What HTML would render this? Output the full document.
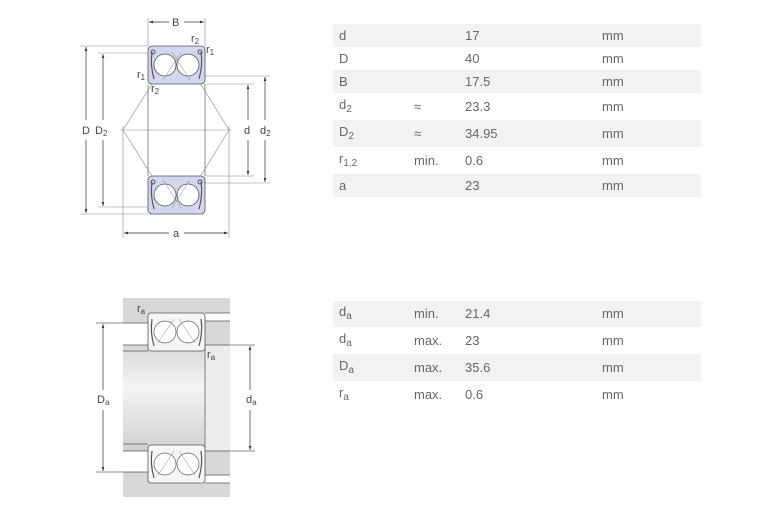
<!DOCTYPE html>
<html><head><meta charset="utf-8"><style>
body{margin:0;background:#fff;width:780px;height:520px;overflow:hidden;font-family:"Liberation Sans",Arial,sans-serif;}
.t{position:absolute;left:333px;width:368px;color:#666;font-size:13px;}
.r{position:relative;}
.r span{position:absolute;top:50%;transform:translateY(-55%);}
.r .a{left:6px}.r .b{left:81px}.r .c{left:132px}.r .u{left:269px}
.g{background:#f2f2f2}
sub{font-size:10px;vertical-align:-3px}
</style></head><body>
<svg width="780" height="520" style="position:absolute;left:0;top:0" font-family="Liberation Sans,Arial,sans-serif" font-size="11" fill="#444">
<defs>
<marker id="ar" markerWidth="6" markerHeight="6" refX="6" refY="3" orient="auto"><path d="M0,1 L6,3 L0,5z" fill="#333"/></marker>
<linearGradient id="sh" x1="0" y1="0" x2="0" y2="1"><stop offset="0" stop-color="#d8d8d8"/><stop offset="0.4" stop-color="#f4f4f4"/><stop offset="1" stop-color="#d0d0d0"/></linearGradient>
<g id="brg">
<rect x="0" y="0" width="57" height="38" rx="4" fill="#d0d7ee" stroke="#555" stroke-width="0.8"/>
<circle cx="17" cy="19" r="11" fill="#fff" stroke="#555" stroke-width="0.8"/>
<circle cx="40" cy="19" r="11" fill="#fff" stroke="#555" stroke-width="0.8"/>
<path d="M4,6 Q2,19 6,33 M53,6 Q55,19 51,33" stroke="#555" fill="none" stroke-width="1.2"/>
<circle cx="5" cy="6" r="2" fill="none" stroke="#555"/><circle cx="52" cy="6" r="2" fill="none" stroke="#555"/>
</g>
<g id="brg2">
<rect x="0" y="0" width="57" height="38" rx="3" fill="#f6f6f6" stroke="#555" stroke-width="0.8"/>
<circle cx="17" cy="19" r="11" fill="#fff" stroke="#666" stroke-width="0.7"/>
<circle cx="40" cy="19" r="11" fill="#fff" stroke="#666" stroke-width="0.7"/>
<path d="M4,6 Q2,19 6,33 M53,6 Q55,19 51,33" stroke="#555" fill="none" stroke-width="1.2"/>
<path d="M10,30 L26,6 M47,30 L31,6" stroke="#888" stroke-width="0.5"/>
</g>
</defs>
<g stroke="#888" stroke-width="0.6" fill="none">
<line x1="148" y1="84" x2="148" y2="176" stroke="#444"/><line x1="205" y1="84" x2="205" y2="176" stroke="#444"/>
<line x1="148" y1="18" x2="148" y2="46"/><line x1="205" y1="18" x2="205" y2="46"/>
<line x1="80" y1="46" x2="148" y2="46"/><line x1="80" y1="214" x2="148" y2="214"/>
<line x1="98" y1="53" x2="150" y2="53"/><line x1="98" y1="207" x2="150" y2="207"/>
<line x1="205" y1="84" x2="254" y2="84"/><line x1="205" y1="176" x2="254" y2="176"/>
<line x1="205" y1="76" x2="270" y2="76"/><line x1="205" y1="183" x2="270" y2="183"/>
<line x1="120" y1="130" x2="232" y2="130"/>
<line x1="123" y1="126" x2="123" y2="238"/><line x1="229" y1="126" x2="229" y2="238"/>
<path d="M123,130 L172,52 M229,130 L181,52 M123,130 L172,208 M229,130 L181,208"/>
</g>
<use href="#brg" x="148" y="46"/><use href="#brg" x="148" y="176"/>
<g stroke="#888" stroke-width="0.5"><path d="M172,52 L190,80 M181,52 L163,80 M172,208 L190,180 M181,208 L163,180"/></g>
<g stroke="#333" stroke-width="0.7">
<line x1="169" y1="22" x2="149" y2="22" marker-end="url(#ar)"/><line x1="184" y1="22" x2="204" y2="22" marker-end="url(#ar)"/>
<line x1="86" y1="120" x2="86" y2="47" marker-end="url(#ar)"/><line x1="86" y1="140" x2="86" y2="213" marker-end="url(#ar)"/>
<line x1="103" y1="120" x2="103" y2="54" marker-end="url(#ar)"/><line x1="103" y1="140" x2="103" y2="206" marker-end="url(#ar)"/>
<line x1="248" y1="120" x2="248" y2="85" marker-end="url(#ar)"/><line x1="248" y1="140" x2="248" y2="175" marker-end="url(#ar)"/>
<line x1="265" y1="120" x2="265" y2="77" marker-end="url(#ar)"/><line x1="265" y1="140" x2="265" y2="182" marker-end="url(#ar)"/>
<line x1="169" y1="233" x2="124" y2="233" marker-end="url(#ar)"/><line x1="184" y1="233" x2="228" y2="233" marker-end="url(#ar)"/>
</g>
<text x="172" y="26">B</text>
<text x="191" y="42">r<tspan font-size="8" dy="2">2</tspan></text>
<text x="206" y="53">r<tspan font-size="8" dy="2">1</tspan></text>
<text x="137" y="78">r<tspan font-size="8" dy="2">1</tspan></text>
<text x="151" y="92">r<tspan font-size="8" dy="2">2</tspan></text>
<text x="82" y="134">D</text><text x="95" y="134">D<tspan font-size="8" dy="2">2</tspan></text>
<text x="244" y="134">d</text><text x="260" y="134">d<tspan font-size="8" dy="2">2</tspan></text>
<text x="173" y="237">a</text>
<rect x="123" y="298" width="107" height="199" fill="#d8d8d8"/>
<rect x="123" y="323" width="25" height="22" fill="#fff"/>
<rect x="123" y="450" width="25" height="22" fill="#fff"/>
<rect x="205" y="313" width="25" height="8" fill="#fff"/>
<rect x="205" y="475" width="25" height="8" fill="#fff"/>
<rect x="205" y="345" width="25" height="106" fill="#ececec"/>
<rect x="123" y="345" width="82" height="106" fill="url(#sh)"/>
<g stroke="#555" stroke-width="0.7" fill="none">
<line x1="123" y1="323" x2="148" y2="323"/><line x1="123" y1="345" x2="205" y2="345"/><line x1="123" y1="351" x2="148" y2="351"/>
<line x1="123" y1="472" x2="148" y2="472"/><line x1="123" y1="451" x2="205" y2="451"/><line x1="123" y1="444" x2="148" y2="444"/>
<line x1="205" y1="313" x2="230" y2="313"/><line x1="205" y1="321" x2="230" y2="321"/><line x1="205" y1="345" x2="230" y2="345"/><line x1="205" y1="345" x2="205" y2="451"/>
<line x1="205" y1="451" x2="230" y2="451"/><line x1="205" y1="475" x2="230" y2="475"/><line x1="205" y1="483" x2="230" y2="483"/>
</g>
<use href="#brg2" x="148" y="313"/><use href="#brg2" x="148" y="445"/>
<g stroke="#333" stroke-width="0.7">
<line x1="96" y1="323" x2="123" y2="323" stroke="#666"/><line x1="96" y1="472" x2="123" y2="472" stroke="#666"/>
<line x1="230" y1="345" x2="255" y2="345" stroke="#666"/><line x1="230" y1="451" x2="255" y2="451" stroke="#666"/>
<line x1="103" y1="390" x2="103" y2="324" marker-end="url(#ar)"/><line x1="103" y1="410" x2="103" y2="471" marker-end="url(#ar)"/>
<line x1="250" y1="390" x2="250" y2="346" marker-end="url(#ar)"/><line x1="250" y1="410" x2="250" y2="450" marker-end="url(#ar)"/>
</g>
<text x="137" y="312">r<tspan font-size="8" dy="2">a</tspan></text>
<text x="207" y="358">r<tspan font-size="8" dy="2">a</tspan></text>
<text x="97" y="403">D<tspan font-size="8" dy="2">a</tspan></text>
<text x="246" y="403">d<tspan font-size="8" dy="2">a</tspan></text>
</svg>
<div class="t" style="top:24px">
<div class="r g" style="height:23px"><span class="a">d</span><span class="c">17</span><span class="u">mm</span></div>
<div class="r" style="height:23px"><span class="a">D</span><span class="c">40</span><span class="u">mm</span></div>
<div class="r g" style="height:23px"><span class="a">B</span><span class="c">17.5</span><span class="u">mm</span></div>
<div class="r" style="height:27px"><span class="a">d<sub>2</sub></span><span class="b">≈</span><span class="c">23.3</span><span class="u">mm</span></div>
<div class="r g" style="height:27px"><span class="a">D<sub>2</sub></span><span class="b">≈</span><span class="c">34.95</span><span class="u">mm</span></div>
<div class="r" style="height:27px"><span class="a">r<sub>1,2</sub></span><span class="b">min.</span><span class="c">0.6</span><span class="u">mm</span></div>
<div class="r g" style="height:23px"><span class="a">a</span><span class="c">23</span><span class="u">mm</span></div>
</div>
<div class="t" style="top:301px">
<div class="r g" style="height:26px"><span class="a">d<sub>a</sub></span><span class="b">min.</span><span class="c">21.4</span><span class="u">mm</span></div>
<div class="r" style="height:27px"><span class="a">d<sub>a</sub></span><span class="b">max.</span><span class="c">23</span><span class="u">mm</span></div>
<div class="r g" style="height:27px"><span class="a">D<sub>a</sub></span><span class="b">max.</span><span class="c">35.6</span><span class="u">mm</span></div>
<div class="r" style="height:27px"><span class="a">r<sub>a</sub></span><span class="b">max.</span><span class="c">0.6</span><span class="u">mm</span></div>
</div>
</body></html>
